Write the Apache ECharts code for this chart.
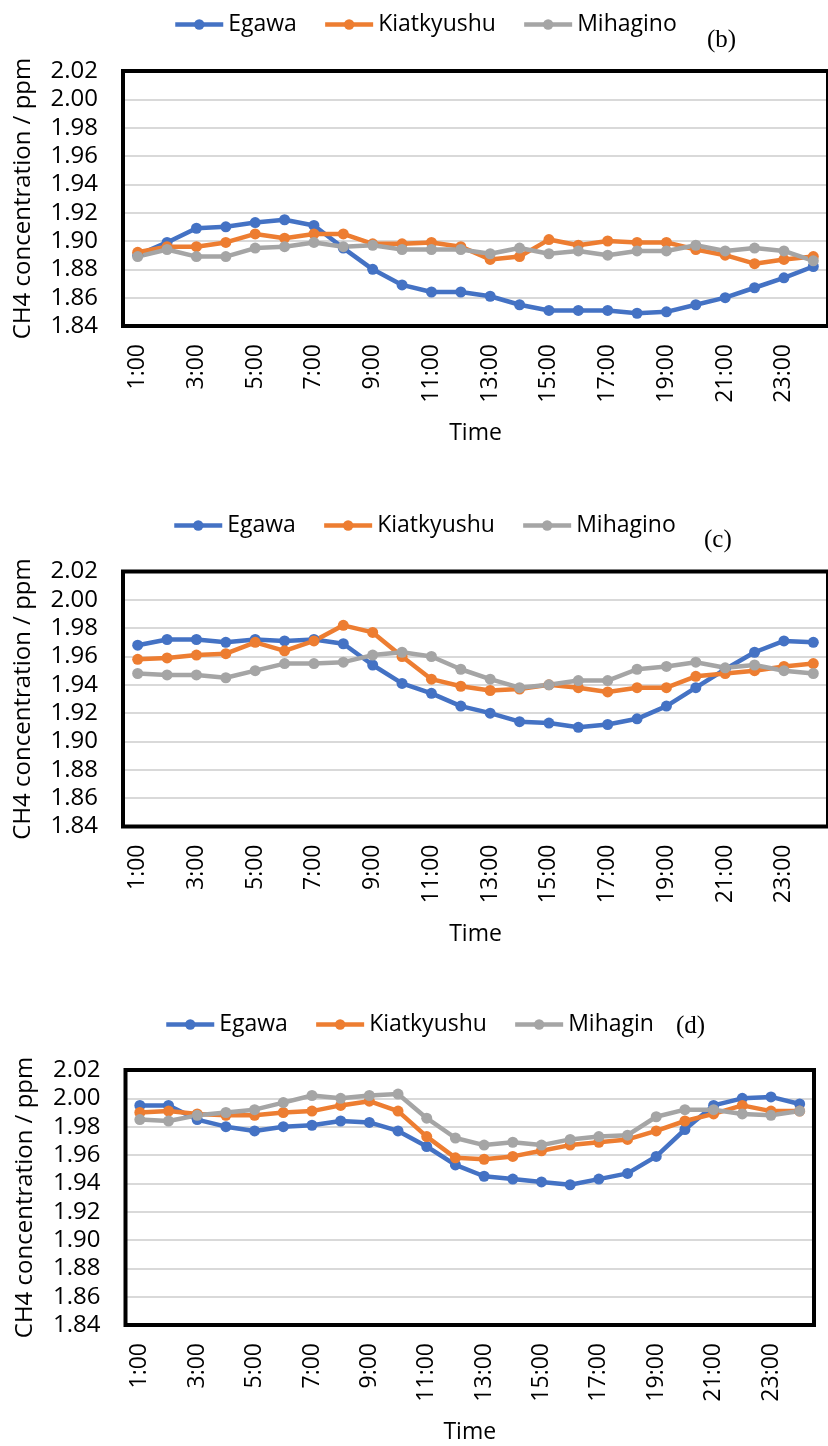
<!DOCTYPE html>
<html>
<head>
<meta charset="utf-8">
<script src="https://cdn.jsdelivr.net/npm/echarts@6/dist/echarts.min.js"></script>
<style>
html,body{margin:0;padding:0;background:#fff;}
#chart{width:828px;height:1446px;}
</style>
</head>
<body>
<div id="chart"></div>
<script>
const hours = ['1:00','2:00','3:00','4:00','5:00','6:00','7:00','8:00','9:00','10:00','11:00','12:00',
  '13:00','14:00','15:00','16:00','17:00','18:00','19:00','20:00','21:00','22:00','23:00','24:00'];
const seriesNames = ['Egawa','Kiatkyushu','Mihagino'];
const panelLabels = ['(b)','(c)','(d)'];

// Panel (b)
const egawaB = [1.890,1.899,1.909,1.910,1.913,1.915,1.911,1.895,1.880,1.869,1.864,1.864,
  1.861,1.855,1.851,1.851,1.851,1.849,1.850,1.855,1.860,1.867,1.874,1.882];
const kitaB = [1.892,1.896,1.896,1.899,1.905,1.902,1.905,1.905,1.898,1.898,1.899,1.896,
  1.887,1.889,1.901,1.897,1.900,1.899,1.899,1.894,1.890,1.884,1.887,1.889];
const mihaB = [1.889,1.894,1.889,1.889,1.895,1.896,1.899,1.896,1.897,1.894,1.894,1.894,
  1.891,1.895,1.891,1.893,1.890,1.893,1.893,1.897,1.893,1.895,1.893,1.886];

// Panel (c)
const egawaC = [1.968,1.972,1.972,1.970,1.972,1.971,1.972,1.969,1.954,1.941,1.934,1.925,
  1.920,1.914,1.913,1.910,1.912,1.916,1.925,1.938,1.951,1.963,1.971,1.970];
const kitaC = [1.958,1.959,1.961,1.962,1.970,1.964,1.971,1.982,1.977,1.960,1.944,1.939,
  1.936,1.937,1.940,1.938,1.935,1.938,1.938,1.946,1.948,1.950,1.953,1.955];
const mihaC = [1.948,1.947,1.947,1.945,1.950,1.955,1.955,1.956,1.961,1.963,1.960,1.951,
  1.944,1.938,1.940,1.943,1.943,1.951,1.953,1.956,1.952,1.954,1.950,1.948];

// Panel (d)
const egawaD = [1.995,1.995,1.985,1.980,1.977,1.980,1.981,1.984,1.983,1.977,1.966,1.953,
  1.945,1.943,1.941,1.939,1.943,1.947,1.959,1.978,1.995,2.000,2.001,1.996];
const kitaD = [1.990,1.991,1.989,1.988,1.988,1.990,1.991,1.995,1.998,1.991,1.973,1.958,
  1.957,1.959,1.963,1.967,1.969,1.971,1.977,1.984,1.989,1.995,1.991,1.991];
const mihaD = [1.985,1.984,1.988,1.990,1.992,1.997,2.002,2.000,2.002,2.003,1.986,1.972,
  1.967,1.969,1.967,1.971,1.973,1.974,1.987,1.992,1.992,1.989,1.988,1.991];

const yTicks = {min:1.84, max:2.02, interval:0.02};

const FONT = '"Open Sans", sans-serif';
const COLORS = ['#4472C4','#ED7D31','#A5A5A5'];

const grids = [
  {left:123, top:71, width:712, height:255},
  {left:123, top:571.5, width:712, height:255},
  {left:125.5, top:1070, width:688.5, height:255}
].map(g => Object.assign(g, {show:true, borderColor:'#000', borderWidth:4, backgroundColor:'transparent', z:3}));

const xAxes = [0,1,2].map(i => ({
  type:'category', gridIndex:i, data:hours, boundaryGap:true,
  axisLine:{show:false}, axisTick:{show:false},
  axisLabel:{interval:1, rotate:90, margin:18, fontFamily:FONT, fontSize:23, color:'#000'},
  splitLine:{show:false},
  name:'Time', nameLocation:'middle', nameGap:96,
  nameTextStyle:{fontFamily:FONT, fontSize:23, color:'#000'}
}));

const yAxes = [0,1,2].map(i => ({
  type:'value', gridIndex:i, min:yTicks.min, max:yTicks.max, interval:yTicks.interval,
  axisLine:{show:false}, axisTick:{show:false},
  axisLabel:{formatter:v => v.toFixed(2), margin:25, fontFamily:FONT, fontSize:24, color:'#000'},
  splitLine:{show:true, showMinLine:false, showMaxLine:false, lineStyle:{color:'#d9d9d9', width:2}},
  name:'CH4 concentration / ppm', nameLocation:'middle', nameGap:88,
  nameTextStyle:{fontFamily:FONT, fontSize:24, color:'#000'}
}));

const panelData = [[egawaB,kitaB,mihaB],[egawaC,kitaC,mihaC],[egawaD,kitaD,mihaD]];
const series = [];
panelData.forEach((set, p) => {
  set.forEach((vals, k) => {
    series.push({
      type:'line', name:seriesNames[k], xAxisIndex:p, yAxisIndex:p, data:vals,
      symbol:'circle', symbolSize:11, showSymbol:true,
      lineStyle:{color:COLORS[k], width:4.5},
      itemStyle:{color:COLORS[k]},
      emphasis:{disabled:true}, animation:false
    });
  });
});

const legendBase = {
  orient:'horizontal', itemWidth:48, itemHeight:13, itemGap:26,
  lineStyle:{width:4.5},
  textStyle:{fontFamily:FONT, fontSize:23, color:'#000'}, selectedMode:false
};
const legends = [
  Object.assign({}, legendBase, {left:168, top:8, data:seriesNames}),
  Object.assign({}, legendBase, {left:167, top:509, data:seriesNames}),
  Object.assign({}, legendBase, {left:159, top:1008, data:[
    'Egawa','Kiatkyushu',
    {name:'Mihagino', textStyle:{width:90, overflow:'truncate', ellipsis:''}}
  ]})
];

const labelPos = [{left:707, top:28},{left:704, top:528},{left:676, top:1014}];
const graphics = panelLabels.map((t, i) => ({
  type:'text', left:labelPos[i].left, top:labelPos[i].top, z:10,
  style:{text:t, font:'25px "Liberation Serif"', fill:'#000'}
}));

const chart = echarts.init(document.getElementById('chart'), null, {renderer:'canvas'});
chart.setOption({
  animation:false,
  color:COLORS,
  grid:grids, xAxis:xAxes, yAxis:yAxes, series:series, legend:legends, graphic:graphics
});
</script>
</body>
</html>
